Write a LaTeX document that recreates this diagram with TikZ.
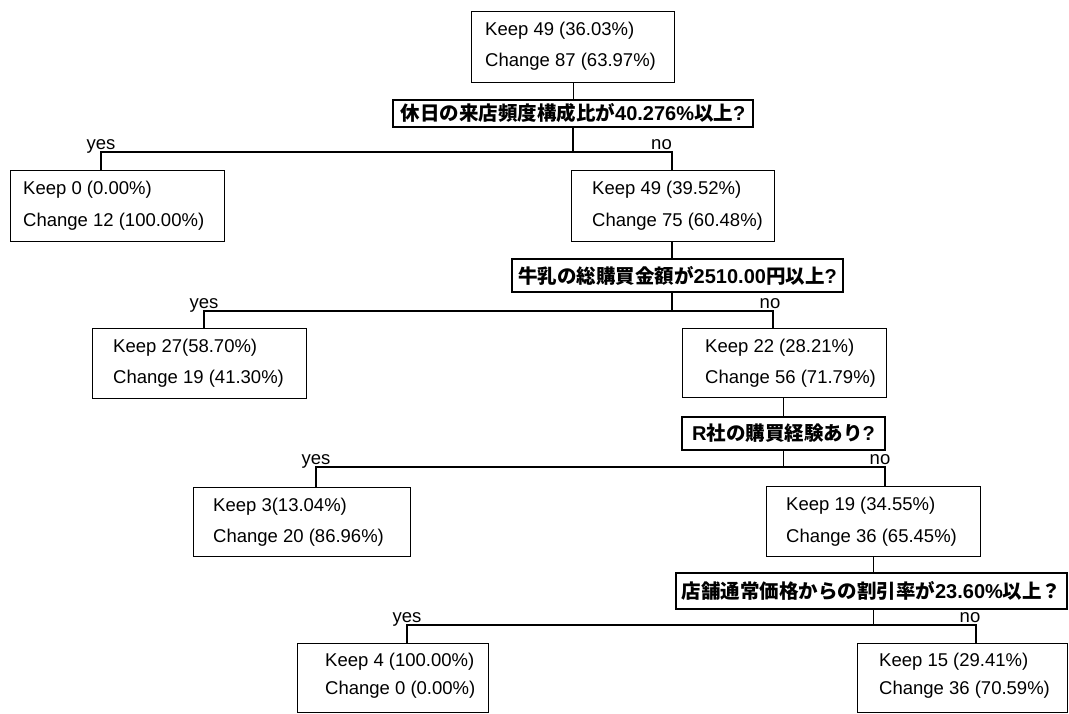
\documentclass[tikz,border=0pt]{standalone}
\usepackage{fontspec}
\setmainfont{Liberation Sans}
\newfontfamily\cjk{Noto Sans CJK JP}
\newcommand\JPtext[1]{{\cjk\fontsize{19.5}{22}\selectfont #1}}
\usetikzlibrary{calc}
\begin{document}
\begin{tikzpicture}[x=1pt,y=-1pt,
  box/.style={draw, line width=1.2pt, rectangle, inner sep=0pt, anchor=north west},
  txt/.style={anchor=west, inner sep=0pt, font=\fontsize{18.5}{22}\selectfont},
  qbox/.style={draw, line width=1.2pt, rectangle, inner sep=0pt, font=\fontsize{20}{24}\selectfont\bfseries},
  lab/.style={anchor=base, inner sep=0pt, font=\fontsize{18.5}{22}\selectfont},
  conn/.style={line width=1.2pt}]
\useasboundingbox[fill=white] (0,0) rectangle (1069,713);

% root
\node[box, minimum width=203pt, minimum height=71pt] (root) at (471,11) {};
\node[txt] (root1) at (485,31) {Keep 49 (36.03\%)};
\node[txt] (root2) at (485,62) {Change 87 (63.97\%)};

% question 1
\node[qbox, minimum width=360pt, minimum height=27pt] (q1) at (573,113.5) {\JPtext{休日の来店頻度構成比が}40.276\%\JPtext{以上}?};

% level 1
\node[box, minimum width=214pt, minimum height=71pt] (k0) at (10,170) {};
\node[txt] (k0a) at (23,190) {Keep 0 (0.00\%)};
\node[txt] (k0b) at (23,222) {Change 12 (100.00\%)};
\node[box, minimum width=203pt, minimum height=71pt] (k1) at (571,170) {};
\node[txt] (k1a) at (592,190) {Keep 49 (39.52\%)};
\node[txt] (k1b) at (592,222) {Change 75 (60.48\%)};

% question 2
\node[qbox, minimum width=331pt, minimum height=33pt] (q2) at (677.5,275.5) {\JPtext{牛乳の総購買金額が}2510.00\JPtext{円以上}?};

% level 2
\node[box, minimum width=214pt, minimum height=70pt] (k2) at (92,328) {};
\node[txt] (k2a) at (113,348) {Keep 27(58.70\%)};
\node[txt] (k2b) at (113,379) {Change 19 (41.30\%)};
\node[box, minimum width=204pt, minimum height=69pt] (k3) at (682,328) {};
\node[txt] (k3a) at (705,348) {Keep 22 (28.21\%)};
\node[txt] (k3b) at (705,379) {Change 56 (71.79\%)};

% question 3
\node[qbox, minimum width=203pt, minimum height=33pt] (q3) at (783.5,433.5) {R\JPtext{社の購買経験あり}?};

% level 3
\node[box, minimum width=217pt, minimum height=69pt] (k4) at (193,487) {};
\node[txt] (k4a) at (213,507) {Keep 3(13.04\%)};
\node[txt] (k4b) at (213,538) {Change 20 (86.96\%)};
\node[box, minimum width=214pt, minimum height=70pt] (k5) at (766,486) {};
\node[txt] (k5a) at (786,506) {Keep 19 (34.55\%)};
\node[txt] (k5b) at (786,538) {Change 36 (65.45\%)};

% question 4
\node[qbox, minimum width=391pt, minimum height=36pt] (q4) at (871.5,591) {\JPtext{店舗通常価格からの割引率が}23.60\%\JPtext{以上？}};

% level 4
\node[box, minimum width=191pt, minimum height=69pt] (k6) at (297,643) {};
\node[txt] (k6a) at (325,662) {Keep 4 (100.00\%)};
\node[txt] (k6b) at (325,690) {Change 0 (0.00\%)};
\node[box, minimum width=210pt, minimum height=69pt] (k7) at (857,643) {};
\node[txt] (k7a) at (879,662) {Keep 15 (29.41\%)};
\node[txt] (k7b) at (879,690) {Change 36 (70.59\%)};

% connectors
\coordinate (y1) at (101,152);
\coordinate (n1) at (672,152);
\coordinate (y2) at (204,311);
\coordinate (n2) at (773,311);
\coordinate (y3) at (316,467);
\coordinate (n3) at (885,467);
\coordinate (y4) at (407,625);
\coordinate (n4) at (976,625);

\draw[conn] (root.south) -- (root.south |- q1.north);
\draw[conn] (q1.south) -- (q1.south |- y1);
\draw[conn] (y1 |- k0.north) -- (y1) -- (n1) -- (n1 |- k1.north);
\draw[conn] (k1.south -| n1) -- (n1 |- q2.north);
\draw[conn] (q2.south -| n1) -- (n1 |- y2);
\draw[conn] (y2 |- k2.north) -- (y2) -- (n2) -- (n2 |- k3.north);
\draw[conn] (q3.north |- k3.south) -- (q3.north);
\draw[conn] (q3.south) -- (q3.south |- y3);
\draw[conn] (y3 |- k4.north) -- (y3) -- (n3) -- (n3 |- k5.north);
\draw[conn] (k5.south) -- (k5.south |- q4.north);
\draw[conn] (q4.south -| k5.south) -- (k5.south |- y4);
\draw[conn] (y4 |- k6.north) -- (y4) -- (n4) -- (n4 |- k7.north);

% labels
\node[lab] (yes1) at ($(y1)+(0,-3)$) {yes};
\node[lab, anchor=base east] (no1) at ($(n1)+(0,-3)$) {no};
\node[lab] (yes2) at ($(y2)+(0,-3)$) {yes};
\node[lab] (no2) at ($(n2)+(-3,-3)$) {no};
\node[lab] (yes3) at ($(y3)+(0,-3)$) {yes};
\node[lab] (no3) at ($(n3)+(-5,-3)$) {no};
\node[lab] (yes4) at ($(y4)+(0,-3)$) {yes};
\node[lab] (no4) at ($(n4)+(-6,-3)$) {no};
\end{tikzpicture}
\end{document}
